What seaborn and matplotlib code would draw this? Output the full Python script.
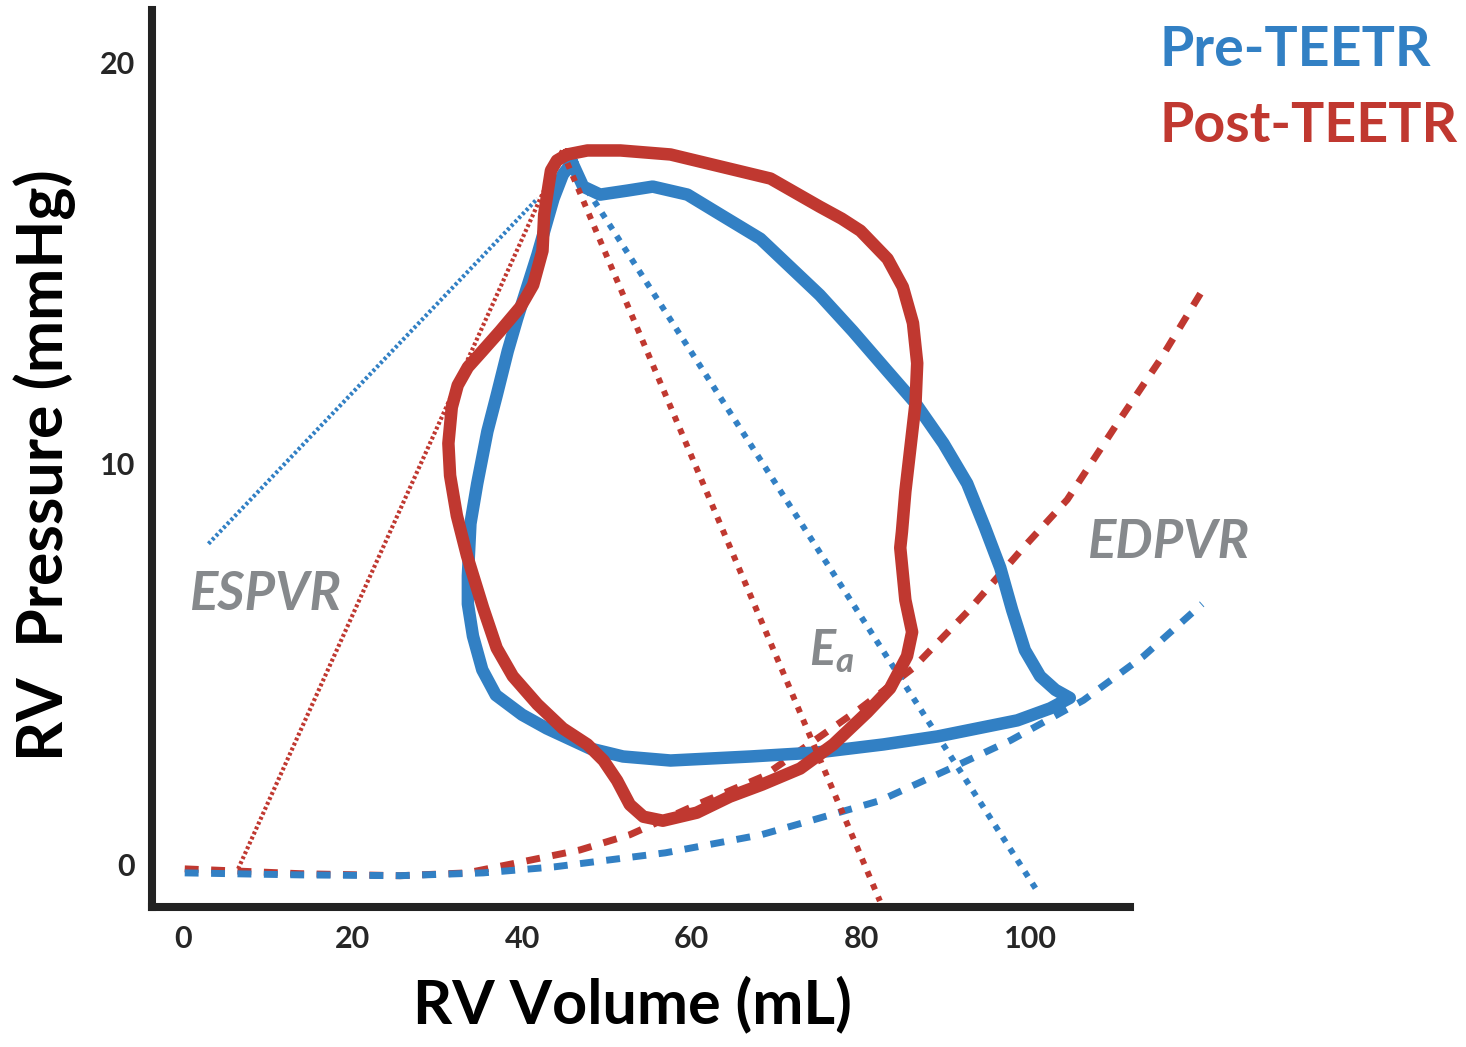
import matplotlib
matplotlib.use("Agg")
import matplotlib.pyplot as plt
import seaborn as sns

# Curvas pressão-volume do VD
blue_vol = [45.9, 47.2, 49.2, 52.4, 55.4, 59.5, 63.4, 68.1, 75.1, 79.0, 83.1, 86.4, 89.7, 92.5,
            94.6, 96.4, 97.8, 99.3, 101.1, 102.9, 104.6, 102.3, 98.4, 89.0, 82.6, 74.8, 66.9,
            57.5, 51.9, 48.0, 42.9, 40.0, 36.9, 35.3, 34.2, 33.6, 33.6, 33.9, 34.7, 35.9, 37.0,
            38.3, 39.4, 41.8, 43.7, 44.8, 45.9]
blue_pres = [17.5, 16.9, 16.7, 16.8, 16.9, 16.7, 16.2, 15.6, 14.2, 13.3, 12.3, 11.5, 10.5, 9.5,
             8.4, 7.4, 6.35, 5.35, 4.7, 4.36, 4.16, 3.9, 3.6, 3.2, 3.0, 2.8, 2.7,
             2.6, 2.7, 2.9, 3.4, 3.74, 4.23, 4.86, 5.7, 6.5, 7.2, 8.5, 9.5, 10.8, 11.7,
             12.8, 13.6, 15.2, 16.6, 17.2, 17.5]

red_vol = [45.3, 47.7, 51.6, 57.5, 63.4, 69.3, 75.1, 77.7, 79.9, 83.1, 84.9, 86.1, 86.6, 86.4,
           85.8, 85.2, 84.8, 84.6, 85.2, 86.0, 85.4, 83.4, 80.7, 76.7, 72.8, 68.3, 64.5,
           60.6, 56.6, 54.3, 52.7, 51.2, 49.6, 47.7, 44.8, 41.8, 38.9, 37.0, 35.4, 33.5,
           32.3, 31.5, 31.3, 31.7, 32.4, 33.6, 35.3, 37.4, 39.8, 41.3, 42.4, 42.6, 43.1,
           43.4, 44.1, 45.3]
red_pres = [17.7, 17.8, 17.8, 17.7, 17.4, 17.1, 16.4, 16.1, 15.8, 15.1, 14.4, 13.5, 12.5, 11.5,
            10.4, 9.3, 8.3, 7.9, 6.6, 5.8, 5.2, 4.4, 3.8, 3.0, 2.4, 2.0, 1.7,
            1.3, 1.1, 1.2, 1.5, 2.1, 2.6, 3.0, 3.4, 4.0, 4.7, 5.4, 6.4, 7.7,
            8.7, 9.7, 10.5, 11.4, 11.95, 12.4, 12.8, 13.3, 13.9, 14.45, 15.3, 16.2, 16.9,
            17.3, 17.55, 17.7]

# EDPVR
edp_blue_vol = [0.2, 13.8, 25.6, 35.4, 43.8, 56.9, 68.2, 74.0, 82.2, 90.5, 97.6, 106.2, 113.3, 120.2]
edp_blue_pres = [-0.2, -0.25, -0.27, -0.2, -0.05, 0.3, 0.75, 1.1, 1.6, 2.4, 3.1, 4.1, 5.2, 6.5]
edp_red_vol = [0.2, 5.9, 13.8, 25.6, 33.5, 39.4, 46.8, 52.7, 60.6, 68.4, 79.9, 86.1, 92.5, 99.1,
               104.3, 110.2, 115.3, 120.2]
edp_red_pres = [-0.1, -0.15, -0.22, -0.27, -0.2, 0.05, 0.37, 0.75, 1.5, 2.2, 3.9, 4.9, 6.3, 7.9,
                9.1, 11.0, 12.6, 14.3]

# ESPVR e Ea (retas)
esp_blue_vol = [3.0, 41.8]
esp_blue_pres = [8.0, 16.6]
esp_red_vol = [6.5, 44.7]
esp_red_pres = [-0.1, 17.8]
ea_blue_vol = [45.9, 100.6]
ea_blue_pres = [17.4, -0.6]
ea_red_vol = [44.7, 82.2]
ea_red_pres = [17.8, -0.9]

x_ticks = [0, 20, 40, 60, 80, 100]
y_ticks = [0, 10, 20]

BLUE = "#3280c4"
RED = "#c03830"
GRAY = "#86898c"
FONT = ["Lato", "DejaVu Sans"]

sns.set_theme(style="white")
plt.rcParams["font.family"] = FONT

fig = plt.figure(figsize=(14.66, 10.47), dpi=100)
ax = fig.add_axes([152 / 1466, 1 - 907 / 1047, 978 / 1466, 897 / 1047])

# linhas de referência
sns.lineplot(x=esp_blue_vol, y=esp_blue_pres, ax=ax, color=BLUE, lw=3, ls=(0, (0.7, 0.6)),
             sort=False, estimator=None)
sns.lineplot(x=esp_red_vol, y=esp_red_pres, ax=ax, color=RED, lw=3, ls=(0, (0.7, 0.6)),
             sort=False, estimator=None)
sns.lineplot(x=edp_red_vol, y=edp_red_pres, ax=ax, color=RED, lw=5, ls=(0, (2.0, 1.8)),
             sort=False, estimator=None, clip_on=False)
sns.lineplot(x=edp_blue_vol, y=edp_blue_pres, ax=ax, color=BLUE, lw=5, ls=(0, (2.0, 1.8)),
             sort=False, estimator=None, clip_on=False)

# loops
sns.lineplot(x=blue_vol, y=blue_pres, ax=ax, color=BLUE, lw=9, sort=False, estimator=None,
             solid_joinstyle="round", solid_capstyle="round")
sns.lineplot(x=ea_blue_vol, y=ea_blue_pres, ax=ax, color=BLUE, lw=4.3, ls=(0, (1, 1.3)),
             sort=False, estimator=None, clip_on=False)
sns.lineplot(x=ea_red_vol, y=ea_red_pres, ax=ax, color=RED, lw=4.3, ls=(0, (1, 1.3)),
             sort=False, estimator=None, clip_on=False)
sns.lineplot(x=red_vol, y=red_pres, ax=ax, color=RED, lw=9, sort=False, estimator=None,
             solid_joinstyle="round", solid_capstyle="round")

ax.set_xlim(-3.66, 111.7)
ax.set_ylim(-1.05, 21.3)
ax.set_xticks(x_ticks)
ax.set_yticks(y_ticks)
ax.set_xticklabels([str(t) for t in x_ticks], fontsize=22, fontweight="bold")
ax.set_yticklabels([str(t) for t in y_ticks], fontsize=22, fontweight="bold")
ax.tick_params(length=0)
ax.tick_params(axis="x", pad=13)
ax.tick_params(axis="y", pad=12)

for s in ["top", "right"]:
    ax.spines[s].set_visible(False)
for s in ["left", "bottom"]:
    ax.spines[s].set_linewidth(5.8)
    ax.spines[s].set_color("#222222")
    ax.spines[s].set_capstyle("projecting")

ax.set_xlabel("RV Volume (mL)", fontsize=44, fontweight="bold", color="black")
ax.set_ylabel("RV  Pressure (mmHg)", fontsize=45, fontweight="bold", color="black")
ax.xaxis.set_label_coords(0.491, -0.076)
ax.yaxis.set_label_coords(-0.078, 0.493)

# anotações
ax.text(0.8, 6.35, "ESPVR", fontsize=38, fontweight="bold", fontstyle="italic", color=GRAY)
ax.text(106.8, 7.65, "EDPVR", fontsize=38, fontweight="bold", fontstyle="italic", color=GRAY,
        clip_on=False)
ax.text(73.9, 4.98, "E", fontsize=35, fontweight="bold", fontstyle="italic", color=GRAY)
ax.text(77.0, 4.8, "a", fontsize=25, fontweight="bold", fontstyle="italic", color=GRAY)

# legenda
fig.text(1160 / 1466, 1 - 66 / 1047, "Pre-TEETR", fontsize=40, fontweight="bold", color=BLUE)
fig.text(1160 / 1466, 1 - 142 / 1047, "Post-TEETR", fontsize=40, fontweight="bold", color=RED)

fig.savefig("out.png", dpi=100)
